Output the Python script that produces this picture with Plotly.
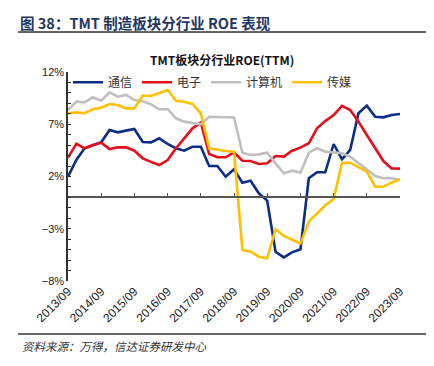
import plotly.graph_objects as go

# Quarterly dates 2013/09 .. 2023/09
quarters = []
for yr in range(2013, 2024):
    for md in ["03-31", "06-30", "09-30", "12-31"]:
        d = f"{yr}-{md}"
        if "2013-09-30" <= d <= "2023-09-30":
            quarters.append(d)

tongxin = [1.98, 3.58, 4.70, 5.01, 5.27, 6.45, 6.23, 6.39, 6.55, 5.30, 5.27, 5.65, 5.11, 4.70, 4.47,
           4.85, 4.85, 3.00, 3.00, 1.98, 2.69, 1.41, 1.60, 0.39, -0.31, -5.20, -5.74, -5.26, -4.97,
           1.83, 2.40, 2.40, 5.11, 3.64, 4.54, 8.05, 8.78, 7.72, 7.66, 7.88, 7.98]
dianzi = [3.80, 5.14, 4.70, 5.01, 5.24, 4.63, 4.79, 4.79, 4.47, 3.74, 3.40, 3.10, 3.58, 4.70, 5.65,
          6.61, 7.15, 4.15, 3.84, 3.84, 4.30, 3.51, 3.48, 3.20, 3.26, 3.96, 3.90, 4.47, 4.76,
          5.18, 6.61, 7.30, 7.88, 8.75, 8.36, 7.25, 5.97, 4.70, 3.48, 2.78, 2.75]
jisuanji = [8.36, 9.16, 9.10, 9.58, 9.25, 10.06, 9.64, 9.80, 9.32, 9.20, 8.90, 8.43, 8.46, 7.57, 7.25,
            7.15, 7.00, 7.72, 7.72, 7.72, 7.65, 4.28, 4.06, 4.12, 4.28, 3.26, 2.31, 2.56, 2.37,
            4.28, 4.70, 4.38, 4.31, 4.22, 3.90, 3.26, 2.62, 2.05, 1.83, 1.83, 1.67]
chuanmei = [8.05, 8.14, 8.05, 8.43, 8.59, 8.94, 8.84, 8.52, 8.52, 9.75, 9.70, 9.96, 10.28, 9.25, 9.16,
            8.94, 8.05, 4.70, 4.54, 4.44, 4.38, -5.03, -5.20, -5.67, -5.83, -3.05, -3.69, -4.01, -4.40,
            -2.32, -1.52, -0.75, -0.15, 3.32, 3.32, 2.88, 2.46, 1.02, 1.02, 1.41, 1.73]

series_names = ["通信", "电子", "计算机", "传媒"]
series_colors = ["#0B2D84", "#E60F1B", "#BFBFBF", "#FFC000"]
x_tickvals = [f"{y}-09-30" for y in range(2013, 2024)]
x_ticktext = [f"{y}/09" for y in range(2013, 2024)]
y_tickvals = [12, 7, 2, -3, -8]
y_ticktext = ["12%", "7%", "2%", "\u22123%", "\u22128%"]

fig = go.Figure()
for name, vals, col in zip(series_names, [tongxin, dianzi, jisuanji, chuanmei], series_colors):
    fig.add_trace(go.Scatter(x=quarters, y=vals, name=name, mode="lines",
                             line=dict(color=col, width=2.6)))

# invisible trace for the zero-crossing axis
fig.add_trace(go.Scatter(x=[quarters[0]], y=[0], xaxis="x2", mode="lines",
                         showlegend=False, hoverinfo="skip", line=dict(width=0)))

tick_font = dict(family="Liberation Sans, Arial, sans-serif", size=11, color="#222")
xtick_font = dict(family="Liberation Sans, Arial, sans-serif", size=12, color="#222")
cjk = "Noto Sans CJK SC, sans-serif"

PW, PH = 332, 209

fig.update_layout(
    width=426, height=358,
    margin=dict(l=60, r=34, t=64, b=85),
    paper_bgcolor="white", plot_bgcolor="white",
    showlegend=True,
    legend=dict(orientation="h", x=0.0, y=1.02, xanchor="left", yanchor="top",
                font=dict(family=cjk, size=12, color="#333"),
                bgcolor="rgba(0,0,0,0)", itemwidth=30, tracegroupgap=0),
    xaxis=dict(type="date", range=["2013-09-30", "2023-09-30"],
               tickvals=x_tickvals, ticktext=x_ticktext, tickangle=-45,
               showgrid=False, showline=False, zeroline=False, ticks="",
               tickfont=xtick_font, automargin=False),
    xaxis2=dict(type="date", range=["2013-09-30", "2023-09-30"], overlaying="x",
                anchor="free", position=0.4, showline=True, linecolor="#555",
                linewidth=2, ticks="inside", ticklen=3, tickwidth=1, tickcolor="#555",
                tickvals=x_tickvals, showticklabels=False, showgrid=False, zeroline=False,
                automargin=False),
    yaxis=dict(range=[-8, 12], tickvals=y_tickvals, ticktext=y_ticktext,
               showgrid=False, zeroline=False, showline=True, linecolor="#333",
               linewidth=1.5, ticks="inside", ticklen=3, tickcolor="#333",
               minor=dict(dtick=1, tick0=0, ticks="inside", ticklen=3, tickcolor="#333"),
               tickfont=tick_font, automargin=False),
)

# header, rules, title, source
fig.add_annotation(text="<b>图 38：TMT 制造板块分行业 ROE 表现</b>", xref="paper", yref="paper",
                   x=-50/PW, y=1 + 50/PH, xanchor="left", yanchor="middle", showarrow=False,
                   font=dict(family=cjk, size=14.5, color="#1F3763"))
fig.add_shape(type="line", xref="paper", yref="paper", x0=-50/PW, x1=359/PW,
              y0=1 + 40/PH, y1=1 + 40/PH, layer="above", line=dict(color="#333", width=1.3))
fig.add_annotation(text="<b>TMT板块分行业ROE(TTM)</b>", xref="paper", yref="paper",
                   x=(222-68)/PW, y=1 + 12/PH, xanchor="center", yanchor="middle",
                   showarrow=False, font=dict(family=cjk, size=12, color="#111"))
fig.add_shape(type="line", xref="paper", yref="paper", x0=-50/PW, x1=359/PW,
              y0=-53/PH, y1=-53/PH, layer="above", line=dict(color="#333", width=1.3))
fig.add_annotation(text="<i>资料来源：万得，信达证券研发中心</i>", xref="paper", yref="paper",
                   x=-48/PW, y=-65/PH, xanchor="left", yanchor="middle", showarrow=False,
                   font=dict(family=cjk, size=11.5, color="#333"))

fig.write_html("out.html")
